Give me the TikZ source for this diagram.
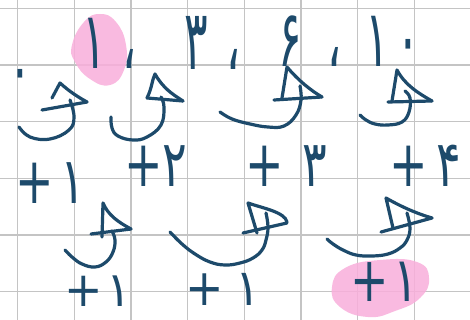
\documentclass[tikz,border=0pt]{standalone}
\usepackage{fontspec}
\usepackage{graphicx}
\newfontfamily\pfont[Script=Arabic]{DejaVu Sans}
\definecolor{ink}{HTML}{1D4A6B}
\definecolor{gridc}{HTML}{C4C4C4}
\definecolor{pinkc}{HTML}{F9AEDB}
\tikzset{
  gridline/.style={draw=gridc, line width=1.5pt},
  inkline/.style={draw=ink, line width=3.2pt, line cap=round, line join=round},
  blob/.style={fill=pinkc, fill opacity=0.85},
  topnum/.style={anchor=base west, inner sep=0pt, text=ink, font=\pfont\fontsize{44}{44}\selectfont},
  difflab/.style={anchor=base west, inner sep=0pt, text=ink, font=\pfont\fontsize{46}{46}\selectfont}
}
\begin{document}
\begin{tikzpicture}[x=1pt,y=-1pt]
\useasboundingbox (0,0) rectangle (470,320);
\fill[white] (0,0) rectangle (470,320);
% grid
\foreach \i in {0,...,7} \draw[gridline] ({17.7+56.67*\i},0) -- ({17.7+56.67*\i},320);
\foreach \j in {0,...,5} \draw[gridline] (0,{8.3+56.67*\j}) -- (470,{8.3+56.67*\j});
% pink highlights
\fill[blob] plot[smooth cycle, tension=0.8] coordinates {(72,45) (84,22) (100,14) (116,22) (126,45) (124,70) (110,85) (90,79) (75,62)};
\fill[blob] plot[smooth cycle, tension=0.8] coordinates {(332,287) (345,268) (380,260) (417,262) (429,278) (420,298) (395,311) (368,317) (340,307)};
% numbers
\node[topnum, anchor=center] (n0) at (20,81) {\scalebox{1}[1.6]{۰}};
\node[topnum] (n1) at (82.7,69) {\scalebox{1}[1.8]{۱\hspace{16pt}،}};
\node[topnum] (n3) at (184.7,70) {\scalebox{1}[1.9]{۳\hspace{18pt}،}};
\node[topnum] (n6) at (278.7,67) {\scalebox{1}[1.8]{۶\hspace{25pt}،}};
\node[topnum] (n10) at (365.7,67) {\scalebox{1}[1.8]{۱\hspace{7pt}۰}};
% first differences
\node[difflab] (d1) at (15.5,203) {\scalebox{1}[1.4]{+\hspace{6pt}۱}};
\node[difflab] (d2) at (124,186) {\scalebox{1}[1.4]{+\hspace{0pt}۲}};
\node[difflab] (d3) at (245.7,186) {\scalebox{1}[1.4]{+\hspace{18pt}۳}};
\node[difflab] (d4) at (389.7,186) {\scalebox{1}[1.4]{+\hspace{8pt}۴}};
% second differences
\node[difflab] (e1) at (64.7,306) {\scalebox{1}[1.05]{+\hspace{3pt}۱}};
\node[difflab] (e2) at (185.7,305) {\scalebox{1}[1.1]{+\hspace{11pt}۱}};
\node[difflab] (e3) at (350.7,301) {\scalebox{1}[1.35]{+\hspace{4pt}۱}};
% jump arrows, row 1
\draw[inkline] (52,98) -- (60,83) .. controls (70,92) and (78,97) .. (87,102);
\draw[inkline] (42,110) -- (87,102);
\draw[inkline] plot[smooth, tension=0.7] coordinates {(70,100) (74,117) (69,130) (50,139) (30,137) (19,127)};
\draw[inkline] (147,98) .. controls (152,88) and (152,80) .. (155,74) .. controls (163,88) and (172,94) .. (183,101);
\draw[inkline] (147,98) -- (183,101);
\draw[inkline] plot[smooth, tension=0.7] coordinates {(161,97) (164,107) (161,125) (147,137) (133,140) (118,136) (112,128) (111,117)};
\draw[inkline] (282,98) -- (287,67) .. controls (298,80) and (310,90) .. (322,97);
\draw[inkline] (274,100) -- (322,97);
\draw[inkline] plot[smooth, tension=0.7] coordinates {(300,86) (301,100) (296,115) (284,126) (268,127) (250,124) (232,119) (220,112)};
\draw[inkline] (392,101) -- (397,70) .. controls (405,85) and (418,93) .. (432,101);
\draw[inkline] (388,102) -- (432,101);
\draw[inkline] plot[smooth, tension=0.7] coordinates {(405,91) (410,98) (409,112) (402,122) (388,125) (375,124) (366,120) (360,115)};
% jump arrows, row 2
\draw[inkline] (102,237) -- (103,203) .. controls (108,215) and (118,222) .. (131,229);
\draw[inkline] (91,234) -- (131,229);
\draw[inkline] plot[smooth, tension=0.7] coordinates {(112,231) (115,240) (113,252) (106,262) (95,267) (82,264) (72,257) (65,250)};
\draw[inkline] (257,233) -- (248,203) .. controls (262,208) and (285,212) .. (287,222);
\draw[inkline] (243,233) -- (287,223);
\draw[inkline] plot[smooth, tension=0.7] coordinates {(266,213) (268,227) (266,240) (262,250) (253,258) (240,263) (225,265) (210,262) (195,254) (182,244) (170,232)};
\draw[inkline] (393,228) -- (386,198) .. controls (400,206) and (415,213) .. (432,218);
\draw[inkline] (381,232) -- (432,218);
\draw[inkline] plot[smooth, tension=0.7] coordinates {(407,213) (410,228) (407,240) (400,248) (388,254) (372,256) (356,255) (343,250) (333,244) (327,239)};
\end{tikzpicture}
\end{document}
